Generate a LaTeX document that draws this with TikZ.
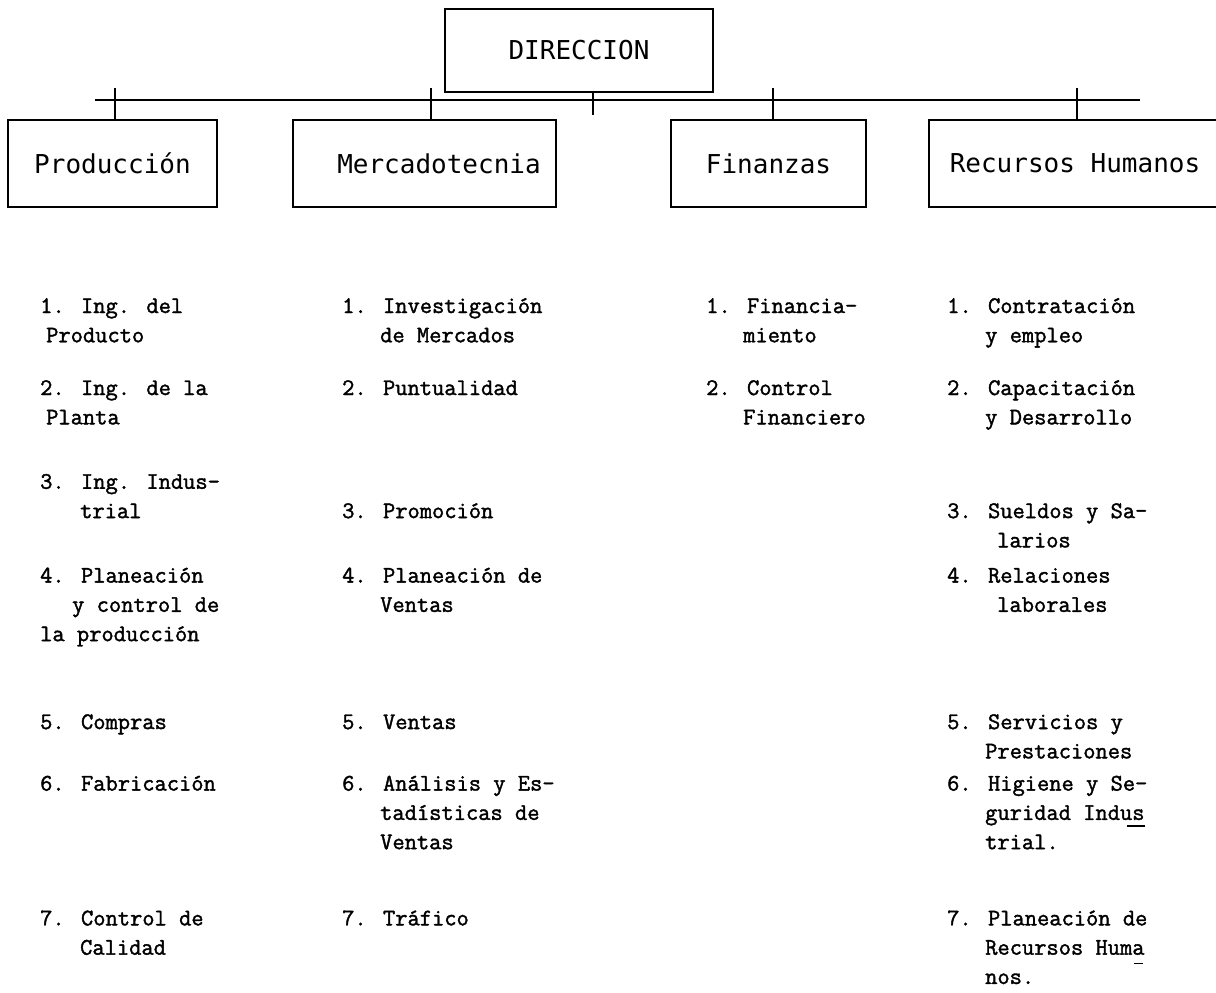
\documentclass[tikz,border=0pt]{standalone}
\usepackage{fontspec}
\usetikzlibrary{calc}
\newfontfamily\headfont{DejaVu Sans Mono}
\newfontfamily\itemfont[FakeBold=1.6]{Latin Modern Mono}
\newcommand\pitch{29.3}
\newcommand\rowA{313}
\newcommand\itm[4]{\node[itemtxt] (#1) at (#2,{\rowA+\pitch*#3}) {#4};}
\begin{document}
\begin{tikzpicture}[x=1pt,y=-1pt,
  box/.style={draw,line width=2.2pt,inner sep=0pt,font=\headfont\fontsize{26pt}{30pt}\selectfont},
  conn/.style={line width=1.3pt},
  itemtxt/.style={anchor=base west,inner sep=0pt,font=\itemfont\fontsize{23.8pt}{26pt}\selectfont},
  hyphmark/.style={line width=1.3pt}]
\useasboundingbox (0,0) rectangle (1216,993);
% boxes
\node[box,minimum width=268pt,minimum height=83pt] (dir) at (579,50.5) {DIRECCION};
\node[box,minimum width=209pt,minimum height=87pt] (prod) at (112.5,163.5) {Producción};
\node[box,minimum width=263pt,minimum height=87pt] (merc) at (424.5,163.5) {\hspace*{29pt}Mercadotecnia};
\node[box,minimum width=296pt,minimum height=87pt] (rh) at (1077,163.5) {\hspace*{-4pt}Recursos Humanos};
\node[box,minimum width=195pt,minimum height=87pt] (fin) at (768.5,163.5) {Finanzas};
% bus
\coordinate (busL) at (95,100);
\coordinate (busR) at (1140,100);
\draw[conn] (busL) -- (busR);
\coordinate (t0) at (593,115);
\draw[conn] (dir.south -| t0) -- (t0);
\coordinate (t1) at (115,88);
\coordinate (t2) at (431,88);
\coordinate (t3) at (773,88);
\coordinate (t4) at (1077,88);
\draw[conn] (t1) -- (t1 |- prod.north);
\draw[conn] (t2) -- (t2 |- merc.north);
\draw[conn] (t3) -- (t3 |- fin.north);
\draw[conn] (t4) -- (t4 |- rh.north);
% column 1
\itm{p1a}{40}{0}{1. Ing. del}
\itm{p1b}{46}{1}{Producto}
\itm{p2a}{40}{2.8}{2. Ing. de la}
\itm{p2b}{46}{3.8}{Planta}
\itm{p3a}{40}{6}{3. Ing. Indus-}
\itm{p3b}{80}{7}{trial}
\itm{p4a}{40}{9.2}{4. Planeación}
\itm{p4b}{72}{10.2}{y control de}
\itm{p4c}{40}{11.2}{la producción}
\itm{p5a}{40}{14.2}{5. Compras}
\itm{p6a}{40}{16.3}{6. Fabricación}
\itm{p7a}{40}{20.9}{7. Control de}
\itm{p7b}{80}{21.9}{Calidad}
% column 2
\itm{m1a}{342}{0}{1. Investigación}
\itm{m1b}{380}{1}{de Mercados}
\itm{m2a}{342}{2.8}{2. Puntualidad}
\itm{m3a}{342}{7}{3. Promoción}
\itm{m4a}{342}{9.2}{4. Planeación de}
\itm{m4b}{380}{10.2}{Ventas}
\itm{m5a}{342}{14.2}{5. Ventas}
\itm{m6a}{342}{16.3}{6. Análisis y Es-}
\itm{m6b}{380}{17.3}{tadísticas de}
\itm{m6c}{380}{18.3}{Ventas}
\itm{m7a}{342}{20.9}{7. Tráfico}
% column 3
\itm{f1a}{706}{0}{1. Financia-}
\itm{f1b}{743}{1}{miento}
\itm{f2a}{706}{2.8}{2. Control}
\itm{f2b}{743}{3.8}{Financiero}
% column 4
\itm{r1a}{947}{0}{1. Contratación}
\itm{r1b}{985}{1}{y empleo}
\itm{r2a}{947}{2.8}{2. Capacitación}
\itm{r2b}{985}{3.8}{y Desarrollo}
\itm{r3a}{947}{7}{3. Sueldos y Sa-}
\itm{r3b}{997}{8}{larios}
\itm{r4a}{947}{9.2}{4. Relaciones}
\itm{r4b}{997}{10.2}{laborales}
\itm{r5a}{947}{14.2}{5. Servicios y}
\itm{r5b}{985}{15.2}{Prestaciones}
\itm{r6a}{947}{16.3}{6. Higiene y Se-}
\itm{r6b}{985}{17.3}{guridad Indus}
\itm{r6c}{985}{18.3}{trial.}
\itm{r7a}{947}{20.9}{7. Planeación de}
\itm{r7b}{985}{21.9}{Recursos Huma}
\itm{r7c}{985}{22.9}{nos.}
% hyphen marks under the line ends
\draw[hyphmark] ($(r6b.base east)+(-18,6)$) -- ($(r6b.base east)+(0,6)$);
\draw[hyphmark] ($(r7b.base east)+(-11,9)$) -- ($(r7b.base east)+(-2,9)$);
\end{tikzpicture}
\end{document}
